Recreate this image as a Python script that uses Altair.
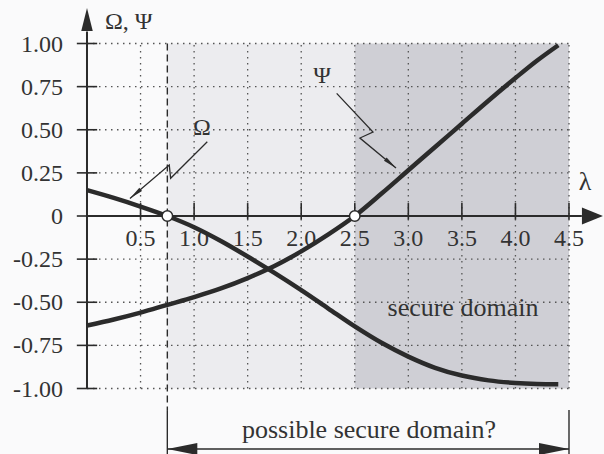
import altair as alt
import pandas as pd

# Sampled curves Ω(λ) and Ψ(λ)
lam = [0.0, 0.25, 0.5, 0.75, 1.0, 1.25, 1.5, 1.75, 2.0, 2.25, 2.5, 2.75,
       3.0, 3.25, 3.5, 3.75, 4.0, 4.2, 4.4]
omega = [0.15, 0.105, 0.055, 0.0, -0.065, -0.145, -0.235, -0.33, -0.43, -0.535,
         -0.64, -0.735, -0.815, -0.88, -0.925, -0.953, -0.968, -0.974, -0.976]
psi = [-0.635, -0.60, -0.56, -0.515, -0.47, -0.42, -0.36, -0.29, -0.205, -0.108,
       0.0, 0.13, 0.265, 0.40, 0.535, 0.67, 0.80, 0.90, 0.99]

# Zero crossings (open circles)
zero_lam = [0.75, 2.5]

# Domain limits along λ
possible_start = 0.75
secure_start = 2.5
lam_max = 4.5

# Axis ticks
x_ticks = [0.5, 1.0, 1.5, 2.0, 2.5, 3.0, 3.5, 4.0, 4.5]
x_tick_labels = ["0.5", "1.0", "1.5", "2.0", "2.5", "3.0", "3.5", "4.0", "4.5"]
y_ticks = [1.0, 0.75, 0.5, 0.25, 0.0, -0.25, -0.5, -0.75, -1.0]
y_tick_labels = ["1.00", "0.75", "0.50", "0.25", "0", "-0.25", "-0.50", "-0.75", "-1.00"]

# Pointer polylines for the curve names (in λ / value coordinates)
omega_ptr_x = [1.123, 0.781, 0.768, 0.401]
omega_ptr_y = [0.430, 0.219, 0.296, 0.102]
psi_ptr_x = [2.331, 2.670, 2.548, 2.885]
psi_ptr_y = [0.711, 0.487, 0.452, 0.278]

W, H = 604, 454
X_DOM = [-0.8122, 4.8268]
Y_DOM = [-1.3797, 1.2522]
xs = alt.Scale(domain=X_DOM, nice=False, zero=False)
ys = alt.Scale(domain=Y_DOM, nice=False, zero=False)
FONT = "Liberation Serif"
INK = "#2b2b2b"


def X(field):
    return alt.X(field, type="quantitative", scale=xs, axis=None)


def Y(field):
    return alt.Y(field, type="quantitative", scale=ys, axis=None)


# Shaded domains
shade_df = pd.DataFrame({
    "x": [possible_start, secure_start],
    "x2": [secure_start, lam_max],
    "y": [-1.0, -1.0],
    "y2": [1.0, 1.0],
    "c": ["#ececef", "#cfcfd5"],
})
shade = alt.Chart(shade_df).mark_rect().encode(
    x=X("x"), x2="x2", y=Y("y"), y2="y2",
    color=alt.Color("c:N", scale=None),
)

# Dotted grid
vgrid_df = pd.DataFrame({"x": x_ticks, "y": -1.0, "y2": 1.0})
vgrid = alt.Chart(vgrid_df).mark_rule(
    color="#555", strokeWidth=1.3, strokeDash=[1.5, 4.5]
).encode(x=X("x"), y=Y("y"), y2="y2")
hgrid_df = pd.DataFrame({"y": [v for v in y_ticks if v != 0], "x": 0.0, "x2": lam_max})
hgrid = alt.Chart(hgrid_df).mark_rule(
    color="#555", strokeWidth=1.3, strokeDash=[1.5, 4.5]
).encode(y=Y("y"), x=X("x"), x2="x2")

# Boundary of the possible secure domain
dash_df = pd.DataFrame({"x": [possible_start], "y": [1.0], "y2": [-1.125]})
dash = alt.Chart(dash_df).mark_rule(
    color=INK, strokeWidth=1.4, strokeDash=[7, 4]
).encode(x=X("x"), y=Y("y"), y2="y2")
ends_df = pd.DataFrame({"x": [possible_start, lam_max], "y": -1.125, "y2": Y_DOM[0]})
ends = alt.Chart(ends_df).mark_rule(color=INK, strokeWidth=1.4).encode(
    x=X("x"), y=Y("y"), y2="y2")

# Axes lines
yaxis_df = pd.DataFrame({"x": [0.0], "y": [-1.0], "y2": [1.07]})
yaxis = alt.Chart(yaxis_df).mark_rule(color=INK, strokeWidth=2).encode(
    x=X("x"), y=Y("y"), y2="y2")
xaxis_df = pd.DataFrame({"y": [0.0], "x": [0.0], "x2": [4.62]})
xaxis = alt.Chart(xaxis_df).mark_rule(color=INK, strokeWidth=2).encode(
    y=Y("y"), x=X("x"), x2="x2")

# Arrowheads (path tip at origin)
yarrow = alt.Chart(pd.DataFrame({"x": [0.0], "y": [1.206]})).mark_point(
    shape="M0,0L0.5,2L-0.5,2Z", size=529, filled=True, opacity=1, color=INK
).encode(x=X("x"), y=Y("y"))
xarrow = alt.Chart(pd.DataFrame({"x": [4.817], "y": [0.0]})).mark_point(
    shape="M0,0L-2,-0.8L-2,0.8Z", size=441, filled=True, opacity=1, color=INK
).encode(x=X("x"), y=Y("y"))

# Ticks
ytick_df = pd.DataFrame({"y": y_ticks})
ytick_df["x"] = -0.095
ytick_df["x2"] = 0.095
yticks = alt.Chart(ytick_df).mark_rule(color=INK, strokeWidth=1.6).encode(
    y=Y("y"), x=X("x"), x2="x2")
xtick_df = pd.DataFrame({"x": x_ticks})
xtick_df["y"] = -0.02
xtick_df["y2"] = 0.075
xticks = alt.Chart(xtick_df).mark_rule(color=INK, strokeWidth=1.6).encode(
    x=X("x"), y=Y("y"), y2="y2")

# Tick labels
ylab_df = pd.DataFrame({"y": y_ticks, "t": y_tick_labels, "x": 0.0})
ylabels = alt.Chart(ylab_df).mark_text(
    font=FONT, fontSize=24, color="#333", align="right", baseline="middle", dx=-24, dy=1
).encode(x=X("x"), y=Y("y"), text="t:N")
xlab_df = pd.DataFrame({"x": x_ticks, "t": x_tick_labels, "y": 0.0})
xlabels = alt.Chart(xlab_df).mark_text(
    font=FONT, fontSize=24, color="#333", align="center", baseline="middle", dy=23
).encode(x=X("x"), y=Y("y"), text="t:N")

# Curves
curve_df = pd.concat([
    pd.DataFrame({"lam": lam, "v": omega, "s": "Ω"}),
    pd.DataFrame({"lam": lam, "v": psi, "s": "Ψ"}),
])
curves = alt.Chart(curve_df).mark_line(
    interpolate="monotone", color=INK, strokeWidth=4.5, strokeCap="butt"
).encode(x=X("lam"), y=Y("v"), detail="s:N")

zeros = alt.Chart(pd.DataFrame({"x": zero_lam, "y": 0.0})).mark_point(
    shape="circle", size=110, filled=True, fill="white", stroke=INK,
    strokeWidth=1.5, opacity=1
).encode(x=X("x"), y=Y("y"))

# Name pointers
ptr_df = pd.concat([
    pd.DataFrame({"x": omega_ptr_x, "y": omega_ptr_y, "k": "Ω", "o": range(4)}),
    pd.DataFrame({"x": psi_ptr_x, "y": psi_ptr_y, "k": "Ψ", "o": range(4)}),
])
pointers = alt.Chart(ptr_df).mark_line(
    color=INK, strokeWidth=1.3, interpolate="linear"
).encode(x=X("x"), y=Y("y"), detail="k:N", order="o:Q")
omega_head = alt.Chart(pd.DataFrame({"x": [omega_ptr_x[-1]], "y": [omega_ptr_y[-1]]})).mark_point(
    shape="M0,0L0.3,2L-0.3,2Z", size=196, filled=True, opacity=1, color=INK, angle=230
).encode(x=X("x"), y=Y("y"))
psi_head = alt.Chart(pd.DataFrame({"x": [psi_ptr_x[-1]], "y": [psi_ptr_y[-1]]})).mark_point(
    shape="M0,0L0.3,2L-0.3,2Z", size=196, filled=True, opacity=1, color=INK, angle=130
).encode(x=X("x"), y=Y("y"))

# Bracket arrow for the possible secure domain
bracket_y = -1.351
bracket = alt.Chart(pd.DataFrame({"x": [possible_start], "x2": [lam_max], "y": [bracket_y]})).mark_rule(
    color=INK, strokeWidth=1.5
).encode(x=X("x"), x2="x2", y=Y("y"))
bl = alt.Chart(pd.DataFrame({"x": [possible_start], "y": [bracket_y]})).mark_point(
    shape="M0,0L2,-0.4L2,0.4Z", size=900, filled=True, opacity=1, color=INK
).encode(x=X("x"), y=Y("y"))
br = alt.Chart(pd.DataFrame({"x": [lam_max], "y": [bracket_y]})).mark_point(
    shape="M0,0L-2,-0.4L-2,0.4Z", size=900, filled=True, opacity=1, color=INK
).encode(x=X("x"), y=Y("y"))

# Text labels
txt_df = pd.DataFrame({
    "x": [0.168, 4.65, 1.074, 2.194, 3.51, 2.633],
    "y": [1.125, 0.197, 0.510, 0.812, -0.533, -1.24],
    "t": ["Ω,  Ψ", "λ", "Ω", "Ψ", "secure domain", "possible secure domain?"],
    "a": ["left", "center", "center", "center", "center", "center"],
    "fs": [24, 26, 24, 24, 26, 26],
})
texts = []
for _, r in txt_df.iterrows():
    texts.append(
        alt.Chart(pd.DataFrame([r])).mark_text(
            font=FONT, fontSize=int(r["fs"]), color="#333", align=r["a"], baseline="middle"
        ).encode(x=X("x"), y=Y("y"), text="t:N")
    )

chart = alt.layer(
    shade, vgrid, hgrid, dash, ends, xticks, yticks, yaxis, xaxis, yarrow, xarrow,
    ylabels, xlabels, curves, zeros, pointers, omega_head, psi_head,
    bracket, bl, br, *texts
).properties(
    width=W, height=H, padding=0, autosize="none", background="#fafafb"
).configure_view(strokeWidth=0)

chart.save("out.html", embed_options={"renderer": "svg", "actions": False})
